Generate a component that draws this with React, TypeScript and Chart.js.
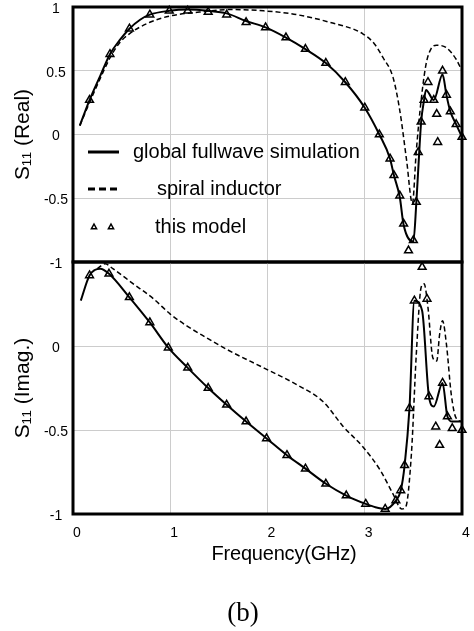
import React, { useEffect, useRef } from "react";
import { Chart, registerables } from "chart.js";

Chart.register(...registerables);

const SANS = "'Liberation Sans', Arial, Helvetica, sans-serif";
const SERIF = "'Liberation Serif', 'Times New Roman', serif";

const SERIES_LABELS = ["global fullwave simulation", "spiral inductor", "this model"];
const Y_TITLE_RE = "S₁₁ (Real)";
const Y_TITLE_IM = "S₁₁ (Imag.)";
const X_TITLE = "Frequency(GHz)";
const CAPTION = "(b)";

// ---------- Real part (top panel) ----------
const fullwaveReX = [0.07, 0.17, 0.28, 0.38, 0.48, 0.58, 0.69, 0.79, 0.99, 1.18, 1.39, 1.58, 1.78, 1.98, 2.19, 2.39, 2.6, 2.8, 3.0, 3.15, 3.26, 3.3, 3.36, 3.4, 3.5, 3.53, 3.56, 3.58, 3.61, 3.63, 3.71, 3.8, 3.84, 3.88, 3.94, 4.0];
const fullwaveReY = [0.07, 0.27, 0.46, 0.63, 0.74, 0.83, 0.9, 0.94, 0.97, 0.98, 0.97, 0.95, 0.89, 0.84, 0.76, 0.67, 0.56, 0.41, 0.21, 0.0, -0.19, -0.32, -0.49, -0.71, -0.84, -0.54, -0.14, 0.1, 0.27, 0.35, 0.27, 0.47, 0.31, 0.18, 0.08, -0.02];

const spiralReX = [0.07, 0.17, 0.28, 0.38, 0.48, 0.58, 0.79, 1.0, 1.3, 1.6, 1.96, 2.3, 2.64, 2.98, 3.1, 3.19, 3.29, 3.36, 3.43, 3.49, 3.53, 3.58, 3.63, 3.68, 3.74, 3.84, 3.94, 4.0];
const spiralReY = [0.07, 0.25, 0.44, 0.6, 0.72, 0.79, 0.88, 0.93, 0.96, 0.98, 0.97, 0.94, 0.88, 0.79, 0.71, 0.6, 0.45, 0.19, -0.2, -0.54, -0.13, 0.27, 0.55, 0.67, 0.7, 0.68, 0.59, 0.5];

const modelReX = [0.17, 0.38, 0.58, 0.79, 0.99, 1.18, 1.39, 1.58, 1.78, 1.98, 2.19, 2.39, 2.6, 2.8, 3.0, 3.15, 3.26, 3.3, 3.36, 3.4, 3.45, 3.5, 3.53, 3.55, 3.58, 3.61, 3.65, 3.71, 3.74, 3.75, 3.8, 3.84, 3.88, 3.94, 4.0];
const modelReY = [0.27, 0.63, 0.83, 0.94, 0.97, 0.97, 0.96, 0.94, 0.88, 0.84, 0.76, 0.67, 0.56, 0.41, 0.21, 0.0, -0.19, -0.32, -0.48, -0.7, -0.91, -0.83, -0.53, -0.14, 0.1, 0.27, 0.41, 0.27, 0.16, -0.06, 0.5, 0.31, 0.18, 0.08, -0.02];

// ---------- Imaginary part (bottom panel) ----------
const fullwaveImX = [0.08, 0.17, 0.28, 0.37, 0.58, 0.79, 0.98, 1.18, 1.39, 1.58, 1.78, 1.99, 2.2, 2.39, 2.6, 2.81, 3.01, 3.11, 3.21, 3.32, 3.37, 3.41, 3.46, 3.51, 3.59, 3.66, 3.71, 3.8, 3.85, 3.9, 4.0];
const fullwaveImY = [0.27, 0.42, 0.46, 0.43, 0.29, 0.14, -0.01, -0.13, -0.25, -0.35, -0.45, -0.55, -0.65, -0.73, -0.82, -0.89, -0.94, -0.96, -0.97, -0.92, -0.86, -0.71, -0.37, 0.27, 0.21, -0.3, -0.36, -0.22, -0.42, -0.45, -0.45];

const spiralImX = [0.25, 0.33, 0.41, 0.62, 0.83, 1.0, 1.17, 1.37, 1.58, 1.96, 2.3, 2.57, 2.78, 2.98, 3.16, 3.29, 3.38, 3.42, 3.48, 3.53, 3.58, 3.61, 3.65, 3.7, 3.74, 3.77, 3.8, 3.84, 3.89, 3.94, 4.0];
const spiralImY = [0.46, 0.49, 0.46, 0.37, 0.28, 0.19, 0.12, 0.05, -0.02, -0.13, -0.23, -0.33, -0.48, -0.6, -0.74, -0.88, -0.97, -0.96, -0.64, -0.05, 0.35, 0.37, 0.23, -0.07, -0.09, 0.07, 0.15, 0.01, -0.29, -0.43, -0.45];

const modelImX = [0.17, 0.37, 0.58, 0.79, 0.98, 1.18, 1.39, 1.58, 1.78, 1.99, 2.2, 2.39, 2.6, 2.81, 3.01, 3.21, 3.32, 3.37, 3.41, 3.46, 3.51, 3.59, 3.64, 3.66, 3.73, 3.77, 3.8, 3.85, 3.9, 4.0];
const modelImY = [0.42, 0.43, 0.29, 0.14, -0.01, -0.13, -0.25, -0.35, -0.45, -0.55, -0.65, -0.73, -0.82, -0.89, -0.94, -0.97, -0.92, -0.86, -0.71, -0.37, 0.27, 0.47, 0.28, -0.3, -0.48, -0.59, -0.22, -0.42, -0.49, -0.5];

const pts = (xs: number[], ys: number[]) => xs.map((x, i) => ({ x, y: ys[i] }));

const GRID = "#cccccc";

const framePlugin = {
  id: "frame",
  afterDatasetsDraw(chart: any) {
    const { ctx, chartArea } = chart;
    const { left, top, right, bottom } = chartArea;
    ctx.save();
    ctx.strokeStyle = "#000";
    ctx.lineWidth = 3;
    ctx.setLineDash([]);
    ctx.strokeRect(left, top, right - left, bottom - top);
    ctx.restore();
  },
};

const legendPlugin = {
  id: "customLegend",
  afterDraw(chart: any) {
    const { ctx, chartArea } = chart;
    const L = chartArea.left;
    const T = chartArea.top;
    const ds = chart.data.datasets;
    ctx.save();
    ctx.strokeStyle = "#000";
    ctx.fillStyle = "#000";
    ctx.font = `20px ${SANS}`;
    ctx.textBaseline = "middle";
    ctx.textAlign = "left";
    // solid
    ctx.lineWidth = 3;
    ctx.setLineDash([]);
    ctx.beginPath();
    ctx.moveTo(L + 15, T + 145);
    ctx.lineTo(L + 46, T + 145);
    ctx.stroke();
    ctx.fillText(ds[1].label, L + 60, T + 145);
    // dashed
    ctx.setLineDash([7, 4]);
    ctx.beginPath();
    ctx.moveTo(L + 15, T + 182);
    ctx.lineTo(L + 47, T + 182);
    ctx.stroke();
    ctx.setLineDash([]);
    ctx.fillText(ds[2].label, L + 84, T + 182);
    // triangles
    ctx.lineWidth = 1.5;
    [L + 21, L + 38].forEach((cx) => {
      const cy = T + 220;
      const r = 3;
      ctx.beginPath();
      ctx.moveTo(cx, cy - r);
      ctx.lineTo(cx + r * 0.87, cy + r * 0.6);
      ctx.lineTo(cx - r * 0.87, cy + r * 0.6);
      ctx.closePath();
      ctx.stroke();
    });
    ctx.fillText(ds[0].label, L + 82, T + 220);
    ctx.restore();
  },
};

function datasets(mx: number[], my: number[], fx: number[], fy: number[], sx: number[], sy: number[]) {
  return [
    {
      label: SERIES_LABELS[2],
      data: pts(mx, my),
      showLine: false,
      pointStyle: "triangle",
      pointRadius: 4.5,
      pointBorderWidth: 1.5,
      pointBorderColor: "#000",
      pointBackgroundColor: "rgba(0,0,0,0)",
      borderColor: "#000",
      clip: 6,
    },
    {
      label: SERIES_LABELS[0],
      data: pts(fx, fy),
      borderColor: "#000",
      borderWidth: 2,
      pointRadius: 0,
      cubicInterpolationMode: "monotone",
      fill: false,
    },
    {
      label: SERIES_LABELS[1],
      data: pts(sx, sy),
      borderColor: "#000",
      borderWidth: 1.5,
      borderDash: [5, 3],
      pointRadius: 0,
      cubicInterpolationMode: "monotone",
      fill: false,
    },
  ];
}

const zeroPad = (s: any) => {
  s.paddingTop = 0;
  s.paddingBottom = 0;
  s.paddingLeft = 0;
  s.paddingRight = 0;
};

function yScale(min: number, max: number, title: string, hideTop: boolean) {
  return {
    type: "linear",
    min,
    max,
    ticks: {
      stepSize: 0.5,
      padding: 5,
      labelOffset: 2,
      crossAlign: "center",
      color: "#000",
      font: { family: SANS, size: 14 },
      callback: (v: any) => (hideTop && v === max ? "" : String(v)),
    },
    grid: { color: GRID, lineWidth: 1, drawTicks: false },
    border: { display: false },
    title: {
      display: true,
      text: title,
      color: "#000",
      font: { family: SANS, size: 21 },
      padding: { top: 11, bottom: 0 },
    },
    afterFit: (s: any) => {
      s.width = 73;
      zeroPad(s);
    },
  };
}

function topConfig(): any {
  return {
    type: "line",
    data: { datasets: datasets(modelReX, modelReY, fullwaveReX, fullwaveReY, spiralReX, spiralReY) },
    options: {
      responsive: false,
      animation: false,
      events: [],
      layout: { padding: { top: 7, right: 12, bottom: 18, left: 0 } },
      plugins: { legend: { display: false }, tooltip: { enabled: false } },
      scales: {
        x: {
          type: "linear",
          min: 0,
          max: 4,
          ticks: { stepSize: 1, display: false },
          grid: { color: GRID, lineWidth: 1, drawTicks: false },
          border: { display: false },
          afterFit: (s: any) => {
            s.height = 0;
            zeroPad(s);
          },
        },
        y: yScale(-1, 1, Y_TITLE_RE, false),
      },
    },
    plugins: [framePlugin, legendPlugin],
  };
}

function bottomConfig(): any {
  return {
    type: "line",
    data: { datasets: datasets(modelImX, modelImY, fullwaveImX, fullwaveImY, spiralImX, spiralImY) },
    options: {
      responsive: false,
      animation: false,
      events: [],
      layout: { padding: { top: 12, right: 12, bottom: 87, left: 0 } },
      plugins: { legend: { display: false }, tooltip: { enabled: false } },
      scales: {
        x: {
          type: "linear",
          min: 0,
          max: 4,
          ticks: {
            stepSize: 1,
            padding: 11,
            labelOffset: 4,
            color: "#000",
            font: { family: SANS, size: 14 },
            callback: (v: any) => String(v),
          },
          grid: { color: GRID, lineWidth: 1, drawTicks: false },
          border: { display: false },
          afterFit: (s: any) => {
            s.height = 30;
            zeroPad(s);
          },
        },
        y: yScale(-1, 0.5, Y_TITLE_IM, true),
      },
    },
    plugins: [framePlugin],
  };
}

export default function App() {
  const topRef = useRef<HTMLCanvasElement>(null);
  const botRef = useRef<HTMLCanvasElement>(null);

  useEffect(() => {
    const c1 = new Chart(topRef.current as HTMLCanvasElement, topConfig());
    const c2 = new Chart(botRef.current as HTMLCanvasElement, bottomConfig());
    return () => {
      c1.destroy();
      c2.destroy();
    };
  }, []);

  return (
    <div style={{ position: "absolute", left: 0, top: 0, width: 474, height: 631, background: "#fff" }}>
      <canvas ref={topRef} width={474} height={280} style={{ position: "absolute", left: 0, top: 0 }} />
      <canvas ref={botRef} width={474} height={381} style={{ position: "absolute", left: 0, top: 250 }} />
      <div
        style={{
          position: "absolute",
          left: 174,
          top: 541,
          width: 220,
          textAlign: "center",
          fontFamily: SANS,
          fontSize: 20,
          lineHeight: "24px",
          letterSpacing: "-0.2px",
          color: "#000",
        }}
      >
        {X_TITLE}
      </div>
      <div
        style={{
          position: "absolute",
          left: 193,
          top: 596,
          width: 100,
          textAlign: "center",
          fontFamily: SERIF,
          fontSize: 27,
          lineHeight: "32px",
          color: "#000",
        }}
      >
        {CAPTION}
      </div>
    </div>
  );
}
